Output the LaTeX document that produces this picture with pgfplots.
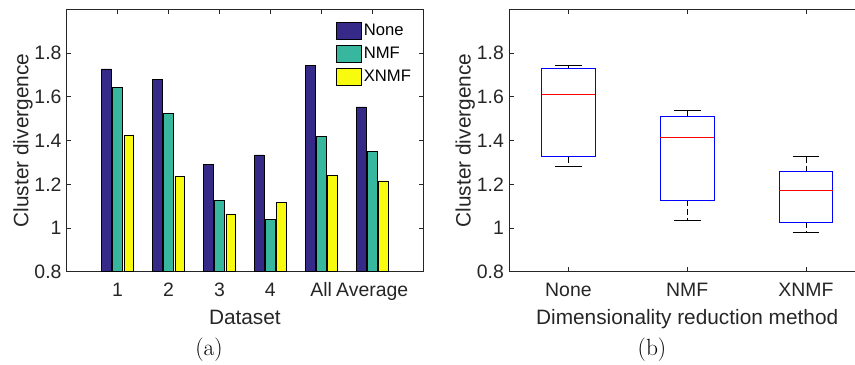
\documentclass[border=0pt]{standalone}
\usepackage{fontspec}
\usepackage{pgfplots}
\pgfplotsset{compat=1.18}
\usepgfplotslibrary{statistics}
\newfontfamily\arial{Liberation Sans}
\definecolor{cNone}{RGB}{53,42,135}
\definecolor{cNMF}{RGB}{55,184,158}
\definecolor{cXNMF}{RGB}{249,251,14}
\definecolor{axgray}{RGB}{38,38,38}
\pgfplotsset{
  common/.style={
    scale only axis, width=356.4bp, height=262.4bp,
    ymin=0.8, ymax=2.0, ytick={0.8,1,1.2,1.4,1.6,1.8},
    axis line style={axgray, line width=0.7bp},
    major tick length=4.5bp,
    tick style={axgray, line width=0.7bp},
    tick align=inside,
    /pgf/number format/assume math mode=true,
    ticklabel style={font=\arial\fontsize{19.5}{22}\selectfont, text=axgray},
    yticklabel style={anchor=east, inner sep=0pt, xshift=-5bp, /pgf/number format/fixed},
    xticklabel style={anchor=base, inner sep=0pt, yshift=-25bp},
    every axis x label/.style={at={(axis description cs:0.5,-0.2031)}, anchor=base, inner sep=0pt,
      font=\arial\fontsize{20.9}{24}\selectfont, text=axgray},
    every axis y label/.style={at={(axis description cs:-0.1077,0.5)}, anchor=base, rotate=90, inner sep=0pt,
      font=\arial\fontsize{20.9}{24}\selectfont, text=axgray},
  },
  mybar/.style={ybar, draw=black, line width=0.6bp, bar width=0.19,
    legend image code/.code={\draw[##1, draw=black, line width=0.6bp] (0bp,-8.35bp) rectangle (25bp,8.35bp);}},
  mybox/.style={draw=blue, solid,
    boxplot/box extend=0.45, boxplot/whisker extend=0.225,
    boxplot/every box/.style={draw=blue, line width=0.8bp},
    boxplot/every median/.style={draw=red, line width=0.8bp},
    boxplot/draw/lower whisker/.code={%
      \draw[black, line width=0.7bp, dash pattern=on 6bp off 3bp]
        (boxplot cs:\pgfplotsboxplotvalue{lower quartile}) -- (boxplot cs:\pgfplotsboxplotvalue{lower whisker});
      \draw[black, line width=0.7bp]
        (boxplot whisker cs:\pgfplotsboxplotvalue{lower whisker},0) -- (boxplot whisker cs:\pgfplotsboxplotvalue{lower whisker},1);
    },
    boxplot/draw/upper whisker/.code={%
      \draw[black, line width=0.7bp, dash pattern=on 6bp off 3bp]
        (boxplot cs:\pgfplotsboxplotvalue{upper quartile}) -- (boxplot cs:\pgfplotsboxplotvalue{upper whisker});
      \draw[black, line width=0.7bp]
        (boxplot whisker cs:\pgfplotsboxplotvalue{upper whisker},0) -- (boxplot whisker cs:\pgfplotsboxplotvalue{upper whisker},1);
    },
  },
}
\begin{document}
\begin{tikzpicture}
\begin{axis}[common, at={(66.7bp,93.3bp)}, anchor=south west,
  xmin=0, xmax=7, xtick={1,2,3,4,5,6}, xticklabels={1,2,3,4,All,Average},
  xlabel={Dataset}, ylabel={Cluster divergence},
  legend style={at={(0.7558,0.9527)}, anchor=north west, draw=none, fill=white,
    inner sep=0pt, row sep=5.8bp, column sep=2bp,
    font=\arial\fontsize{16.7}{18}\selectfont, nodes={inner sep=0pt}},
  legend cell align=left]
\addplot[mybar, fill=cNone, bar shift=-0.22] coordinates
  {(1,1.727) (2,1.681) (3,1.289) (4,1.334) (5,1.745) (6,1.554)};
\addplot[mybar, fill=cNMF, bar shift=0] coordinates
  {(1,1.644) (2,1.525) (3,1.127) (4,1.038) (5,1.418) (6,1.350)};
\addplot[mybar, fill=cXNMF, bar shift=0.22] coordinates
  {(1,1.426) (2,1.237) (3,1.063) (4,1.118) (5,1.240) (6,1.215)};
\legend{None,NMF,XNMF}
\end{axis}
\begin{axis}[common, at={(509bp,93.3bp)}, anchor=south west,
  xmin=0.5, xmax=3.5, xtick={1,2,3}, xticklabels={None,NMF,XNMF},
  xlabel={Dimensionality reduction method}, ylabel={Cluster divergence},
  boxplot/draw direction=y]
\addplot[mybox, boxplot prepared={draw position=1, median=1.611,
  upper quartile=1.730, lower quartile=1.325, upper whisker=1.744, lower whisker=1.281}]
  coordinates {};
\addplot[mybox, boxplot prepared={draw position=2, median=1.415,
  upper quartile=1.511, lower quartile=1.127, upper whisker=1.539, lower whisker=1.037}]
  coordinates {};
\addplot[mybox, boxplot prepared={draw position=3, median=1.171,
  upper quartile=1.258, lower quartile=1.027, upper whisker=1.327, lower whisker=0.980}]
  coordinates {};
\end{axis}
\node[inner sep=0pt, font=\fontsize{23.5}{26}\selectfont] at (209bp,15bp) {(a)};
\node[inner sep=0pt, font=\fontsize{23.5}{26}\selectfont] at (652bp,15bp) {(b)};
\pgfresetboundingbox
\useasboundingbox (0,0) rectangle (855bp,365bp);
\end{tikzpicture}
\end{document}
